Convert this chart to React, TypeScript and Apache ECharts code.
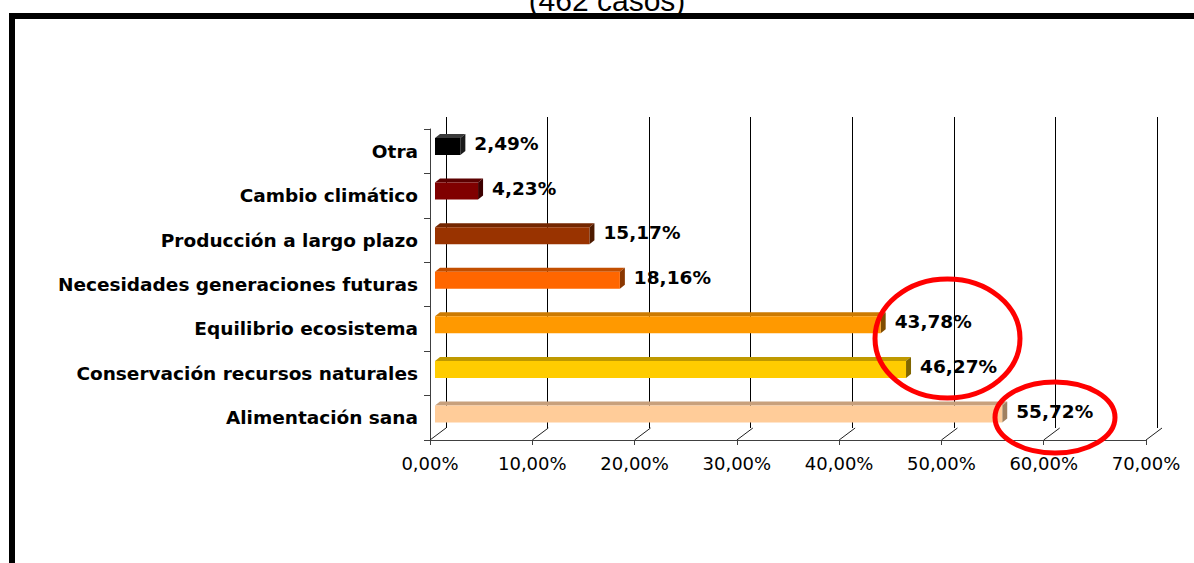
import React, { useEffect, useRef } from 'react';
import * as echarts from 'echarts';

// Chart content
const titleText = '(462 casos)';
const categories = [
  'Otra',
  'Cambio climático',
  'Producción a largo plazo',
  'Necesidades generaciones futuras',
  'Equilibrio ecosistema',
  'Conservación recursos naturales',
  'Alimentación sana',
];
const values = [2.49, 4.23, 15.17, 18.16, 43.78, 46.27, 55.72];
const xTicks = [0, 10, 20, 30, 40, 50, 60, 70];

// Bar face colours (front, top, side)
const frontColors = ['#000000', '#800000', '#993300', '#ff6600', '#ff9900', '#ffcc00', '#ffcc99'];
const topColors = ['#3a3a3a', '#5c0000', '#732600', '#c24e00', '#cc7a00', '#bf9900', '#c8a07c'];
const sideColors = ['#1a1a1a', '#3d0000', '#4d1a00', '#8a3700', '#804c00', '#806600', '#a08060'];

const fmtPct = (v: number) => v.toFixed(2).replace('.', ',') + '%';

const FONT = '"DejaVu Sans", Verdana, sans-serif';

export default function App() {
  const ref = useRef<HTMLDivElement>(null);

  useEffect(() => {
    document.body.style.margin = '0';
    if (!ref.current) return;
    const chart = echarts.init(ref.current, undefined, { renderer: 'svg' });

    const depthX = 16;
    const depthY = 12;

    const option: any = {
      animation: false,
      backgroundColor: '#ffffff',
      grid: [
        // front plane: category axis, value axis labels
        { left: 430, right: 48, top: 129, bottom: 123 },
        // back wall: gridlines
        { left: 446, right: 37, top: 117, bottom: 135 },
        // bar plane
        { left: 435, right: 46.4, top: 124.2, bottom: 126.7 },
      ],
      xAxis: [
        {
          gridIndex: 0,
          type: 'value',
          min: 0,
          max: 70,
          interval: 10,
          axisLine: { show: true, lineStyle: { color: '#404040', width: 1 } },
          axisTick: { show: true, length: 5, lineStyle: { color: '#404040' } },
          splitLine: { show: false },
          axisLabel: {
            formatter: (v: number) => fmtPct(v),
            fontFamily: FONT,
            fontSize: 18,
            color: '#000',
            margin: 14,
          },
        },
        {
          gridIndex: 1,
          type: 'value',
          min: 0,
          max: 70,
          interval: 10,
          axisLine: { show: false },
          axisTick: { show: false },
          axisLabel: { show: false },
          splitLine: { show: true, lineStyle: { color: '#000', width: 1 } },
        },
        {
          gridIndex: 2,
          type: 'value',
          min: 0,
          max: 70,
          interval: 10,
          show: false,
          splitLine: { show: false },
        },
      ],
      yAxis: [
        {
          gridIndex: 0,
          type: 'category',
          inverse: true,
          data: categories,
          axisLine: { show: true, lineStyle: { color: '#404040', width: 1 } },
          axisTick: { show: true, length: 6, lineStyle: { color: '#404040' } },
          axisLabel: {
            fontFamily: FONT,
            fontWeight: 'bold',
            fontSize: 18.5,
            color: '#000',
            margin: 12,
          },
        },
        {
          gridIndex: 1,
          type: 'category',
          inverse: true,
          data: categories,
          show: false,
        },
        {
          gridIndex: 2,
          type: 'category',
          inverse: true,
          data: categories,
          show: false,
        },
      ],
      series: [
        {
          // floor edges linking front ticks to the back wall
          type: 'custom',
          xAxisIndex: 0,
          yAxisIndex: 0,
          silent: true,
          data: xTicks.map((t) => [t, 0]),
          renderItem: (params: any, api: any) => {
            const cs = params.coordSys;
            const x = api.coord([api.value(0), 0])[0];
            const yb = cs.y + cs.height;
            return {
              type: 'line',
              shape: { x1: x, y1: yb, x2: x + depthX, y2: yb - depthY },
              style: { stroke: '#202020', lineWidth: 1 },
            };
          },
        },
        {
          // 3D-looking bars
          type: 'custom',
          xAxisIndex: 2,
          yAxisIndex: 2,
          data: values.map((v, i) => [v, i]),
          renderItem: (params: any, api: any) => {
            const v = api.value(0);
            const idx = api.value(1);
            const start = api.coord([0, idx]);
            const end = api.coord([v, idx]);
            const h = 17;
            const dx = 5;
            const dy = 4;
            const x0 = start[0];
            const x1 = end[0];
            const yc = start[1];
            const y0 = yc - h / 2;
            const y1 = yc + h / 2;
            return {
              type: 'group',
              children: [
                {
                  type: 'polygon',
                  shape: { points: [[x0, y0], [x0 + dx, y0 - dy], [x1 + dx, y0 - dy], [x1, y0]] },
                  style: { fill: topColors[idx] },
                },
                {
                  type: 'polygon',
                  shape: { points: [[x1, y0], [x1 + dx, y0 - dy], [x1 + dx, y1 - dy], [x1, y1]] },
                  style: { fill: sideColors[idx] },
                },
                {
                  type: 'rect',
                  shape: { x: x0, y: y0, width: x1 - x0, height: h },
                  style: { fill: frontColors[idx] },
                },
                {
                  type: 'text',
                  x: x1 + dx + 9,
                  y: yc - 3,
                  style: {
                    text: fmtPct(v),
                    font: 'bold 18.5px ' + FONT,
                    fill: '#000',
                    align: 'left',
                    verticalAlign: 'middle',
                  },
                },
              ],
            };
          },
        },
      ],
      graphic: [
        {
          type: 'text',
          x: 607,
          y: 0,
          z: 10,
          style: {
            text: titleText,
            font: '30px "Liberation Sans", Arial, sans-serif',
            fill: '#000',
            align: 'center',
            verticalAlign: 'middle',
          },
        },
        { type: 'rect', z: 10, shape: { x: 9, y: 13, width: 1185, height: 6 }, style: { fill: '#000' } },
        { type: 'rect', z: 10, shape: { x: 9, y: 13, width: 6, height: 550 }, style: { fill: '#000' } },
        {
          type: 'ellipse',
          z: 20,
          shape: { cx: 947.5, cy: 338.5, rx: 72.5, ry: 59.5 },
          style: { fill: 'none', stroke: '#ff0000', lineWidth: 5 },
        },
        {
          type: 'ellipse',
          z: 20,
          shape: { cx: 1055, cy: 417.5, rx: 60, ry: 35.5 },
          style: { fill: 'none', stroke: '#ff0000', lineWidth: 5 },
        },
      ],
    };

    chart.setOption(option);
    return () => chart.dispose();
  }, []);

  return <div ref={ref} style={{ width: 1194, height: 563 }} />;
}
